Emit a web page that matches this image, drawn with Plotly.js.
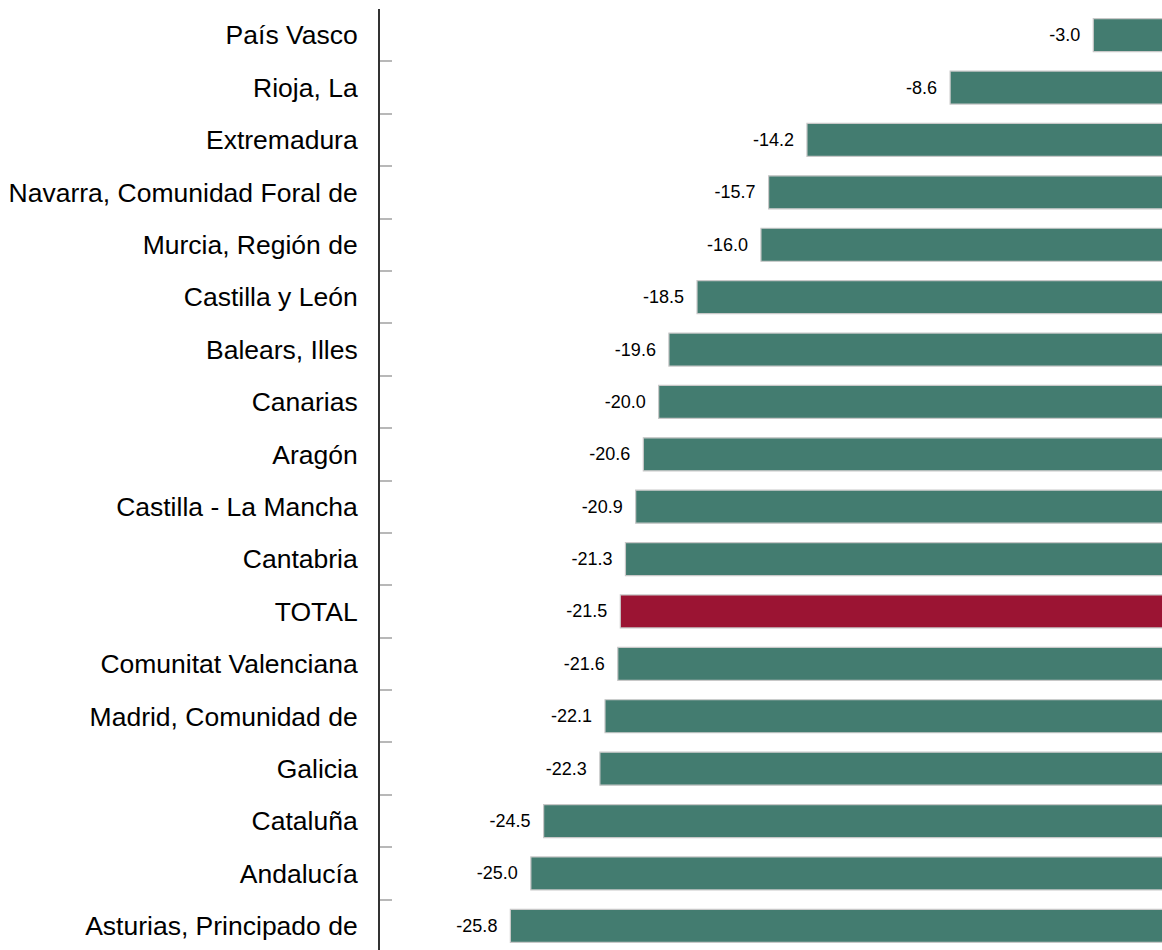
<!DOCTYPE html>
<html>
<head>
<meta charset="utf-8">
<script src="https://cdn.plot.ly/plotly-3.0.1.min.js"></script>
<style>
html,body{margin:0;padding:0;overflow:hidden;background:#fff;}
#chart{width:1170px;height:952px;}
</style>
</head>
<body>
<div id="chart"></div>
<script>
const regions = [
  "País Vasco", "Rioja, La", "Extremadura", "Navarra, Comunidad Foral de",
  "Murcia, Región de", "Castilla y León", "Balears, Illes", "Canarias",
  "Aragón", "Castilla - La Mancha", "Cantabria", "TOTAL",
  "Comunitat Valenciana", "Madrid, Comunidad de", "Galicia", "Cataluña",
  "Andalucía", "Asturias, Principado de"
];
const values = [
  -3.0, -8.6, -14.2, -15.7, -16.0, -18.5, -19.6, -20.0, -20.6, -20.9,
  -21.3, -21.5, -21.6, -22.1, -22.3, -24.5, -25.0, -25.8
];
const greenColor = "#437c70";
const totalColor = "#9b1433";
const colors = regions.map(r => r === "TOTAL" ? totalColor : greenColor);

const trace = {
  type: "bar",
  orientation: "h",
  x: values,
  y: regions,
  marker: {color: colors, line: {color: "#c8c8c8", width: 1.2}},
  text: values.map(v => v.toFixed(1) + "\u00a0\u00a0"),
  textposition: "outside",
  textfont: {family: "Liberation Sans, Arial, sans-serif", size: 18, color: "#000"},
  constraintext: "none",
  cliponaxis: false,
  hoverinfo: "x+y"
};

const layout = {
  width: 1170,
  height: 952,
  margin: {l: 380, r: 0, t: 9, b: 0, pad: 0},
  paper_bgcolor: "#fff",
  plot_bgcolor: "#fff",
  bargap: 0.37,
  showlegend: false,
  font: {family: "Liberation Sans, Arial, sans-serif", color: "#000"},
  xaxis: {
    range: [-30.9, 0],
    showgrid: false, zeroline: false, showline: false,
    showticklabels: false, ticks: ""
  },
  yaxis: {
    type: "category",
    autorange: "reversed",
    showline: true, linecolor: "#333", linewidth: 2,
    ticks: "inside", tickson: "boundaries", ticklen: 12, tickwidth: 2, tickcolor: "#b8b8b8",
    tickfont: {family: "Liberation Sans, Arial, sans-serif", size: 26.5, color: "#000"},
    ticklabelstandoff: 15,
    showgrid: false, zeroline: false
  }
};

Plotly.newPlot("chart", [trace], layout, {displayModeBar: false, staticPlot: true});
</script>
</body>
</html>
